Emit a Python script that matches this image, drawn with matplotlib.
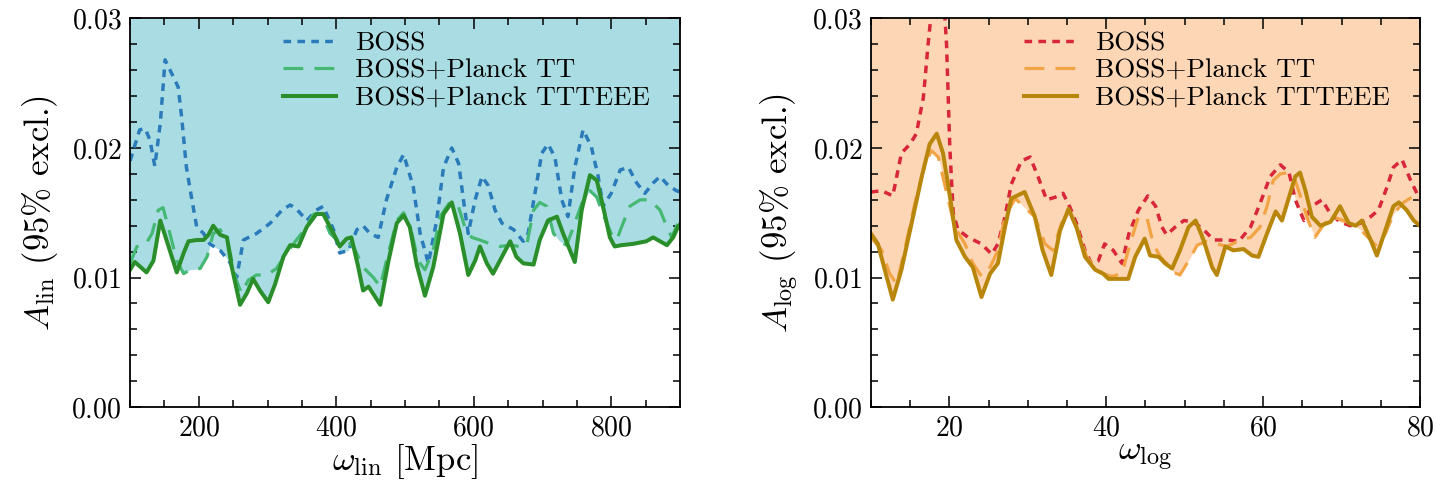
import numpy as np
import matplotlib
matplotlib.use("Agg")
import matplotlib.pyplot as plt
from matplotlib.ticker import MultipleLocator

plt.rcParams['font.family'] = 'serif'
plt.rcParams['font.serif'] = ['cmr10']
plt.rcParams['mathtext.fontset'] = 'cm'
plt.rcParams['axes.formatter.use_mathtext'] = True

# ---- left panel: linear oscillations ----
lin_boss_w = [100, 114, 122, 129, 136, 144, 151, 161, 170, 175, 182, 190, 197, 207, 216, 231, 245, 255,
              265, 284, 304, 321, 333, 342, 357, 371, 381, 396, 405, 418, 430, 439, 449, 461, 473, 488,
              498, 512, 522, 534, 546, 556, 568, 578, 587, 592, 602, 612, 621, 631, 641, 658, 672, 679,
              689, 699, 708, 718, 728, 737, 747, 759, 771, 781, 788, 800, 813, 825, 837, 849, 861, 871,
              883, 895, 900]
lin_boss = [0.0190, 0.0214, 0.0215, 0.0206, 0.0186, 0.0219, 0.0268, 0.0257, 0.0247, 0.0224, 0.0185, 0.0160,
            0.0139, 0.0134, 0.0126, 0.0121, 0.0112, 0.0100, 0.0129, 0.0134, 0.0142, 0.0152, 0.0156, 0.0153,
            0.0144, 0.0152, 0.0155, 0.0137, 0.0119, 0.0121, 0.0137, 0.0140, 0.0134, 0.0131, 0.0160, 0.0185,
            0.0195, 0.0170, 0.0134, 0.0111, 0.0144, 0.0185, 0.0200, 0.0188, 0.0152, 0.0134, 0.0160, 0.0178,
            0.0171, 0.0152, 0.0142, 0.0137, 0.0128, 0.0134, 0.0165, 0.0196, 0.0203, 0.0193, 0.0160, 0.0147,
            0.0185, 0.0214, 0.0201, 0.0178, 0.0155, 0.0165, 0.0183, 0.0185, 0.0173, 0.0165, 0.0173, 0.0178,
            0.0171, 0.0167, 0.0166]

lin_tt_w = [100, 110, 122, 132, 141, 148, 158, 168, 178, 187, 202, 212, 221, 231, 243, 253, 262, 272, 284,
            299, 313, 328, 342, 354, 367, 379, 391, 401, 413, 425, 439, 454, 464, 473, 488, 498, 510, 519,
            529, 541, 551, 565, 577, 587, 597, 609, 624, 638, 653, 667, 677, 687, 696, 706, 716, 725, 735,
            745, 757, 769, 779, 788, 800, 808, 815, 827, 842, 856, 871, 881, 888, 897, 900]
lin_tt = [0.0111, 0.0124, 0.0125, 0.0134, 0.0152, 0.0154, 0.0134, 0.0113, 0.0103, 0.0106, 0.0107, 0.0116,
          0.0134, 0.0137, 0.0126, 0.0100, 0.0088, 0.0098, 0.0102, 0.0102, 0.0107, 0.0119, 0.0129, 0.0137,
          0.0149, 0.0149, 0.0134, 0.0129, 0.0129, 0.0124, 0.0108, 0.0100, 0.0093, 0.0113, 0.0144, 0.0150,
          0.0134, 0.0113, 0.0106, 0.0121, 0.0147, 0.0158, 0.0156, 0.0139, 0.0131, 0.0129, 0.0126, 0.0124,
          0.0125, 0.0124, 0.0125, 0.0152, 0.0158, 0.0155, 0.0134, 0.0128, 0.0125, 0.0139, 0.0157, 0.0167,
          0.0162, 0.0149, 0.0134, 0.0129, 0.0139, 0.0155, 0.0160, 0.0160, 0.0152, 0.0139, 0.0131, 0.0142,
          0.0143]

lin_te_w = [100, 107, 124, 134, 144, 153, 168, 178, 185, 197, 207, 214, 221, 231, 241, 248, 260, 270, 279,
            289, 301, 311, 323, 333, 345, 357, 371, 381, 396, 405, 415, 422, 432, 439, 447, 464, 476, 488,
            498, 507, 517, 529, 541, 556, 568, 580, 592, 602, 609, 619, 628, 641, 653, 662, 672, 687, 696,
            708, 721, 730, 740, 747, 757, 769, 779, 788, 798, 805, 815, 832, 851, 861, 871, 881, 890, 897,
            900]
lin_te = [0.0106, 0.0112, 0.0104, 0.0113, 0.0144, 0.0129, 0.0104, 0.0119, 0.0128, 0.0129, 0.0129, 0.0133,
          0.0140, 0.0133, 0.0131, 0.0108, 0.0079, 0.0088, 0.0099, 0.0090, 0.0081, 0.0095, 0.0116, 0.0125,
          0.0124, 0.0139, 0.0149, 0.0149, 0.0134, 0.0124, 0.0130, 0.0131, 0.0108, 0.0090, 0.0093, 0.0079,
          0.0113, 0.0142, 0.0148, 0.0139, 0.0110, 0.0086, 0.0108, 0.0149, 0.0158, 0.0134, 0.0102, 0.0113,
          0.0124, 0.0111, 0.0103, 0.0116, 0.0128, 0.0116, 0.0111, 0.0110, 0.0129, 0.0144, 0.0147, 0.0134,
          0.0121, 0.0112, 0.0152, 0.0179, 0.0175, 0.0155, 0.0131, 0.0124, 0.0125, 0.0126, 0.0128, 0.0131,
          0.0128, 0.0125, 0.0131, 0.0139, 0.0141]

# ---- right panel: log oscillations ----
log_boss_w = [10.0, 11.4, 12.8, 13.9, 15.0, 15.8, 16.7, 17.3, 17.8, 18.6, 19.3, 19.65, 20.07, 20.5, 21.1,
              22.4, 24.1, 25.4, 26.2, 27.1, 27.9, 29.2, 30.3, 31.3, 32.4, 33.5, 34.5, 35.4, 36.2, 37.3,
              38.1, 39.0, 39.8, 40.9, 42.0, 42.9, 44.1, 45.3, 46.3, 47.1, 47.7, 48.8, 49.9, 51.1, 52.4,
              53.7, 55.4, 56.9, 58.4, 59.6, 60.9, 62.2, 63.3, 64.1, 65.2, 66.2, 67.5, 68.6, 69.8, 71.1,
              72.4, 73.7, 74.7, 75.8, 76.6, 77.7, 78.8, 79.6, 80.0]
log_boss = [0.0166, 0.0167, 0.0163, 0.0196, 0.0203, 0.0211, 0.0239, 0.0280, 0.0310, 0.0340, 0.0315, 0.0280,
            0.0200, 0.0150, 0.0137, 0.0131, 0.0126, 0.0118, 0.0126, 0.0147, 0.0172, 0.0190, 0.0193, 0.0178,
            0.0160, 0.0162, 0.0165, 0.0154, 0.0142, 0.0121, 0.0111, 0.0113, 0.0126, 0.0121, 0.0111, 0.0134,
            0.0152, 0.0163, 0.0155, 0.0139, 0.0133, 0.0139, 0.0144, 0.0143, 0.0137, 0.0129, 0.0129, 0.0128,
            0.0139, 0.0157, 0.0178, 0.0187, 0.0181, 0.0160, 0.0144, 0.0155, 0.0160, 0.0149, 0.0143, 0.0140,
            0.0142, 0.0147, 0.0152, 0.0170, 0.0185, 0.0191, 0.0175, 0.0165, 0.0160]

log_tt_w = [10.0, 11.4, 12.4, 13.3, 14.3, 15.6, 16.7, 17.7, 18.6, 19.6, 20.7, 22.0, 23.0, 24.1, 25.2, 26.2,
            27.1, 28.4, 29.6, 30.9, 32.2, 33.2, 34.3, 35.4, 36.4, 37.5, 38.6, 39.6, 40.7, 42.0, 42.9, 44.1,
            45.2, 46.0, 46.9, 47.7, 48.6, 49.4, 50.5, 51.6, 52.8, 54.1, 55.4, 57.1, 58.4, 59.6, 60.5, 61.3,
            62.2, 63.3, 64.1, 64.9, 65.8, 66.6, 67.5, 68.6, 69.8, 71.1, 72.4, 73.7, 74.5, 75.6, 76.6, 77.9,
            79.2, 80.0]
log_tt = [0.0131, 0.0121, 0.0103, 0.0095, 0.0121, 0.0157, 0.0183, 0.0198, 0.0193, 0.0167, 0.0139, 0.0126,
          0.0111, 0.0101, 0.0108, 0.0121, 0.0147, 0.0161, 0.0154, 0.0147, 0.0126, 0.0121, 0.0142, 0.0149,
          0.0136, 0.0116, 0.0108, 0.0103, 0.0101, 0.0103, 0.0123, 0.0147, 0.0146, 0.0126, 0.0116, 0.0111,
          0.0104, 0.0102, 0.0113, 0.0125, 0.0128, 0.0126, 0.0124, 0.0129, 0.0131, 0.0139, 0.0155, 0.0175,
          0.0180, 0.0181, 0.0175, 0.0160, 0.0143, 0.0131, 0.0139, 0.0147, 0.0145, 0.0142, 0.0137, 0.0129,
          0.0124, 0.0134, 0.0149, 0.0158, 0.0163, 0.0165]

log_te_w = [10.0, 10.9, 12.0, 12.8, 13.9, 15.2, 16.5, 17.5, 18.4, 19.2, 20.1, 20.9, 22.0, 23.0, 24.1, 25.2,
            26.2, 27.1, 27.9, 29.6, 30.9, 31.9, 33.0, 34.1, 35.2, 36.2, 37.3, 38.6, 39.6, 40.3, 41.5, 42.8,
            43.7, 44.9, 45.6, 46.7, 47.5, 48.4, 49.4, 50.5, 51.4, 52.4, 53.5, 54.1, 55.2, 56.2, 57.5, 58.6,
            59.4, 60.5, 61.6, 62.4, 63.3, 64.1, 64.7, 65.4, 66.2, 67.3, 68.6, 69.8, 70.9, 71.8, 72.6, 73.7,
            74.5, 75.6, 76.6, 77.3, 78.3, 79.2, 80.0]
log_te = [0.0134, 0.0126, 0.0101, 0.0083, 0.0106, 0.0142, 0.0178, 0.0203, 0.0211, 0.0196, 0.0162, 0.0129,
          0.0116, 0.0108, 0.0085, 0.0103, 0.0111, 0.0139, 0.0161, 0.0166, 0.0147, 0.0121, 0.0102, 0.0136,
          0.0153, 0.0139, 0.0116, 0.0106, 0.0103, 0.0099, 0.0099, 0.0099, 0.0116, 0.0130, 0.0117, 0.0116,
          0.0111, 0.0107, 0.0121, 0.0139, 0.0144, 0.0129, 0.0108, 0.0102, 0.0124, 0.0121, 0.0122, 0.0117,
          0.0116, 0.0134, 0.0151, 0.0144, 0.0162, 0.0178, 0.0181, 0.0167, 0.0147, 0.0140, 0.0143, 0.0155,
          0.0142, 0.0140, 0.0144, 0.0129, 0.0117, 0.0137, 0.0155, 0.0158, 0.0152, 0.0144, 0.0140]

labels = ['BOSS', 'BOSS+Planck TT', 'BOSS+Planck TTTEEE']

fig = plt.figure(figsize=(14.37, 4.83), dpi=100)
ax1 = fig.add_axes([0.0905, 0.157, 0.3827, 0.805])
ax2 = fig.add_axes([0.606, 0.157, 0.3822, 0.805])


def panel(ax, curves, colors, fill_color, xlim, xmaj, xmin, xlabel, ylabel):
    grid = np.linspace(xlim[0], xlim[1], 2000)
    low = np.min([np.interp(grid, w, v) for w, v in curves], axis=0)
    ax.fill_between(grid, low, 0.03, color=fill_color, lw=0, zorder=0)
    styles = [dict(dashes=(2.2, 1.8), lw=2.5), dict(dashes=(6.2, 3.5), lw=2.3), dict(lw=2.9)]
    for (w, v), c, st, lab in zip(curves, colors, styles, labels):
        ax.plot(w, v, color=c, label=lab, solid_joinstyle='round', dash_joinstyle='round', **st)
    ax.set_xlim(*xlim)
    ax.set_ylim(0, 0.03)
    ax.xaxis.set_major_locator(MultipleLocator(xmaj))
    ax.xaxis.set_minor_locator(MultipleLocator(xmin))
    ax.yaxis.set_major_locator(MultipleLocator(0.01))
    ax.yaxis.set_minor_locator(MultipleLocator(0.002))
    ax.tick_params(which='both', direction='in', top=True, right=True, labelsize=20, width=1.1)
    ax.tick_params(which='major', length=8, pad=6)
    ax.tick_params(which='minor', length=5)
    for s in ax.spines.values():
        s.set_linewidth(1.3)
    ax.set_xlabel(xlabel, fontsize=25, labelpad=0)
    ax.set_ylabel(ylabel, fontsize=25, labelpad=8)
    ax.legend(loc='upper left', bbox_to_anchor=(0.234, 1.03), frameon=False, fontsize=19.5,
              handlelength=1.95, labelspacing=0.14, handletextpad=0.7)


panel(ax1, [(lin_boss_w, lin_boss), (lin_tt_w, lin_tt), (lin_te_w, lin_te)],
      ['#2b7bba', '#45b873', '#2a8f2a'], '#aadde3', (100, 900), 200, 50,
      r'$\omega_{\rm lin}$ [Mpc]', r'$A_{\rm lin}$ (95% excl.)')
panel(ax2, [(log_boss_w, log_boss), (log_tt_w, log_tt), (log_te_w, log_te)],
      ['#d8263a', '#f2a444', '#b8860b'], '#fdd6b5', (10, 80), 20, 5,
      r'$\omega_{\rm log}$', r'$A_{\rm log}$ (95% excl.)')

fig.savefig('out.png', dpi=100)
